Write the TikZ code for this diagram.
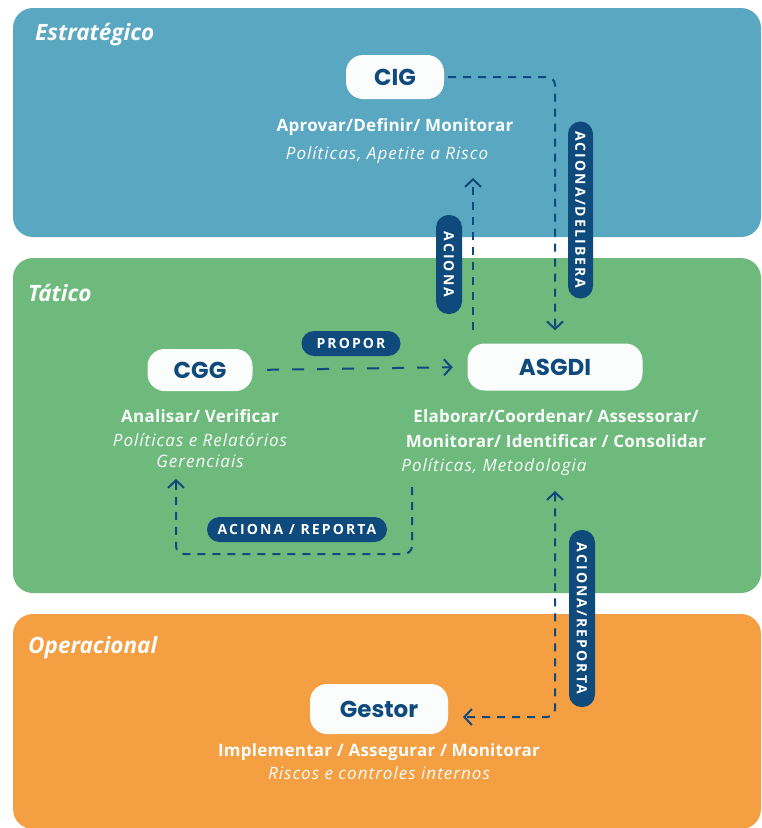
\documentclass[tikz,border=0pt]{standalone}
\usepackage{fontspec}
\setmainfont{Open Sans}
\newfontfamily\pop{Poppins}
\newfontfamily\lbl[LetterSpace=15]{Open Sans}
\newfontfamily\actfont[LetterSpace=1.5]{Open Sans}
\newfontfamily\descfont[LetterSpace=6]{Open Sans}
\usetikzlibrary{arrows.meta}
\definecolor{stratblue}{HTML}{5AA7C1}
\definecolor{tatgreen}{HTML}{6DBA7C}
\definecolor{oporange}{HTML}{F49F42}
\definecolor{navy}{HTML}{0E4A7C}
\definecolor{softwhite}{HTML}{FBFCFC}
\tikzset{
  panel/.style={rounded corners=20pt},
  pill/.style={fill=softwhite, rounded corners=17pt, text=navy, inner sep=0pt,
    font=\pop\bfseries\fontsize{23}{25}\selectfont},
  tag/.style={fill=navy, text=white, rounded corners=12.5pt, inner sep=0pt,
    minimum height=25, font=\lbl\bfseries\fontsize{14}{15}\selectfont},
  act/.style={text=softwhite, align=center, inner sep=0pt,
    font=\actfont\bfseries\fontsize{17}{25}\selectfont},
  desc/.style={text=softwhite, align=center, inner sep=0pt,
    font=\descfont\itshape\fontsize{17}{21}\selectfont},
  level/.style={text=softwhite, anchor=west, inner sep=0pt,
    font=\bfseries\itshape\fontsize{22.5}{24}\selectfont},
  conn/.style={draw=navy, line width=2pt, dash pattern=on 8pt off 7pt,
    -{Straight Barb[length=7.5pt,width=16pt,line width=2pt]}},
}
\begin{document}
\begin{tikzpicture}[x=1pt,y=-1pt]
\useasboundingbox (0,0) rectangle (762,828);
\fill[white] (0,0) rectangle (762,828);
% panels
\fill[stratblue, panel] (13,8) rectangle (761,237);
\fill[tatgreen, panel] (13,258) rectangle (761,593);
\fill[oporange, panel] (13,614) rectangle (761,829);
% level titles
\node[level] (lvlE) at (35,35) {Estratégico};
\node[level] (lvlT) at (28,293) {Tático};
\node[level] (lvlO) at (28,648) {Operacional};
% main nodes
\node[pill, minimum width=98, minimum height=44] (CIG) at (395,77) {CIG};
\node[pill, minimum width=105, minimum height=42] (CGG) at (200,370) {CGG};
\node[pill, minimum width=175, minimum height=47] (ASGDI) at (555,367) {ASGDI};
\node[pill, minimum width=138, minimum height=50] (Gestor) at (379,709) {Gestor};
% descriptions
\node[act] (cigact) at (395,127) {Aprovar/Definir/ Monitorar};
\node[desc] (cigdesc) at (387,155) {Políticas, Apetite a Risco};
\node[act] (cggact) at (200,416) {Analisar/ Verificar};
\node[desc] (cggdesc) at (200,451) {Políticas e Relatórios\\Gerenciais};
\node[act] (asgact) at (556,428.5) {Elaborar/Coordenar/ Assessorar/\\Monitorar/ Identificar / Consolidar};
\node[desc] (asgdesc) at (494,467) {Políticas, Metodologia};
\node[act] (gestact) at (379,752) {Implementar / Assegurar / Monitorar};
\node[desc] (gestdesc) at (379,773) {Riscos e controles internos};
% connector end coordinates
\coordinate (ax) at (473,0);
\coordinate (cigin) at (473,178);
\coordinate (asgout) at (412,487);
\coordinate (loopbot) at (0,554);
\coordinate (cggin) at (176,479);
\coordinate (asgin) at (555,491);
\coordinate (gin) at (463,717);
% connectors
\draw[conn, rounded corners=8pt, shorten <=4pt, shorten >=13pt] (CIG.east) -| (ASGDI.north);
\draw[conn, shorten <=13pt] (ASGDI.north -| ax) -- (cigin);
\draw[conn, dash pattern=on 12pt off 13pt, shorten <=14.5pt, shorten >=14.5pt] (CGG.east) -- (ASGDI.west);
\draw[conn, rounded corners=8pt] (asgout) |- (cggin |- loopbot) -- (cggin);
\draw[conn, {Straight Barb[length=7.5pt,width=16pt,line width=2pt]}-{Straight Barb[length=7.5pt,width=16pt,line width=2pt]}, rounded corners=8pt] (asgin) |- (gin);
% tags
\node[tag, minimum width=99] (tPropor) at (351,343.5) {PROPOR};
\node[tag, minimum width=180] (tAcRep) at (297,529.5) {ACIONA / REPORTA};
\node[tag, rotate=-90, minimum width=99, minimum height=26] (tAciona) at (449,264.5) {ACIONA};
\node[tag, rotate=-90, minimum width=177] (tAcDel) at (580.5,210) {ACIONA/DELIBERA};
\node[tag, rotate=-90, minimum width=177, minimum height=26] (tAcRep2) at (582,618.5) {ACIONA/REPORTA};
\end{tikzpicture}
\end{document}
